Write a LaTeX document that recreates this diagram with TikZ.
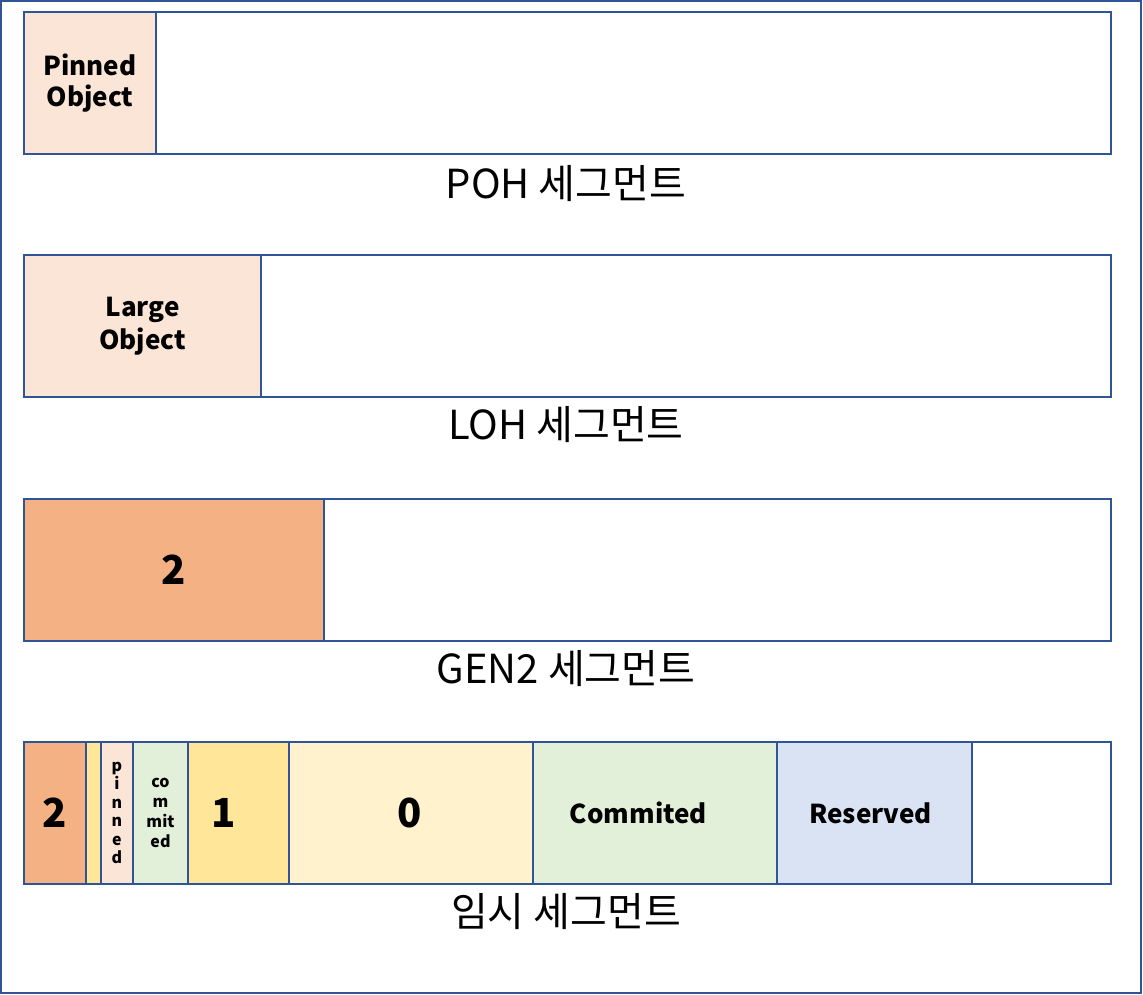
\documentclass[tikz,border=0pt]{standalone}
\usepackage{fontspec}
\setmainfont{Noto Sans CJK KR}
\definecolor{bord}{HTML}{2F5597}
\definecolor{peach}{HTML}{FBE5D6}
\definecolor{orng}{HTML}{F4B183}
\definecolor{yel}{HTML}{FFE699}
\definecolor{lyel}{HTML}{FFF2CC}
\definecolor{lgrn}{HTML}{E2F0D9}
\definecolor{lblu}{HTML}{DAE3F3}
\begin{document}
\begin{tikzpicture}[x=1pt,y=-1pt,
  cell/.style={draw=bord, line width=2pt, anchor=north west, minimum height=142pt, inner sep=0pt, align=center},
  celltext/.style={font=\fontsize{26}{30}\selectfont\bfseries},
  digit/.style={font=\fontsize{40}{44}\selectfont\bfseries},
  seglabel/.style={font=\fontsize{40}{46}\selectfont, anchor=center}]
\useasboundingbox (0,0) rectangle (1143,995);
\draw[bord, line width=2pt] (1,1) rectangle (1141,993);
% Row 1
\node[cell, minimum width=1087pt] (r1) at (23,11) {};
\node[cell, fill=peach, minimum width=132pt, celltext] (pin) at (23,11) {\raisebox{-3pt}{Pinned}\\[4pt]Object};
\node[seglabel] (l1) at (566,184) {POH 세그먼트};
% Row 2
\node[cell, minimum width=1087pt] (r2) at (23,254) {};
\node[cell, fill=peach, minimum width=237pt, celltext] (lob) at (23,254) {\raisebox{-3pt}{Large}\\[4pt]Object};
\node[seglabel] (l2) at (566,425) {LOH 세그먼트};
% Row 3
\node[cell, minimum width=1087pt] (r3) at (23,498) {};
\node[cell, fill=orng, minimum width=300pt, digit] (g2) at (23,498) {2};
\node[seglabel] (l3) at (566,669) {GEN2 세그먼트};
% Row 4
\node[cell, minimum width=1087pt] (r4) at (23,741) {};
\node[cell, fill=orng, minimum width=62pt, digit] (c2) at (23,741) {2};
\node[cell, fill=yel, minimum width=15pt] (cy) at (85,741) {};
\node[cell, fill=peach, minimum width=32pt, font=\fontsize{16}{18.5}\selectfont\bfseries] (cp) at (100,741) {p\\i\\n\\n\\e\\d};
\node[cell, fill=lgrn, minimum width=55pt, font=\fontsize{16}{20}\selectfont\bfseries] (cc) at (132,741) {co\\m\\mit\\ed};
\node[cell, fill=yel, minimum width=101pt, digit] (c1) at (187,741) {\hspace*{-30pt}1};
\node[cell, fill=lyel, minimum width=244pt, digit] (c0) at (288,741) {\hspace*{-3pt}0};
\node[cell, fill=lgrn, minimum width=244pt, celltext] (ccm) at (532,741) {\hspace*{-33pt}\raisebox{-3pt}{Commited}};
\node[cell, fill=lblu, minimum width=195pt, celltext] (crs) at (776,741) {\hspace*{-8pt}\raisebox{-3pt}{Reserved}};
\node[cell, minimum width=139pt] (cw) at (971,741) {};
\node[seglabel] (l4) at (566,912) {임시 세그먼트};
\end{tikzpicture}
\end{document}
